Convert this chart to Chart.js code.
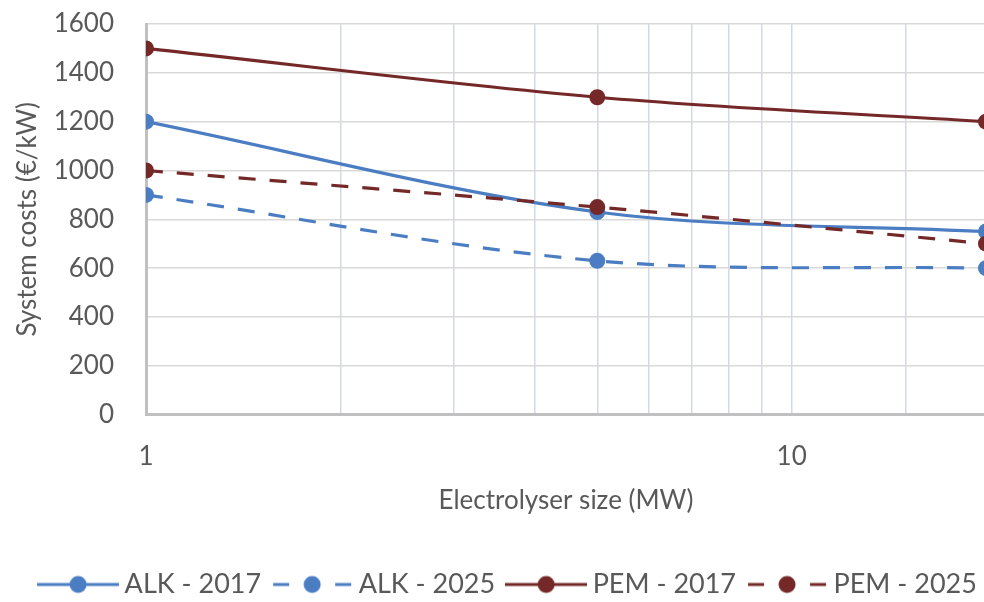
<!DOCTYPE html>
<html>
<head>
<meta charset="utf-8">
<script src="https://cdn.jsdelivr.net/npm/chart.js@4/dist/chart.umd.min.js"></script>
<style>
  html, body { margin: 0; padding: 0; background: #ffffff; overflow: hidden; width: 984px; height: 602px; }
  #wrap { position: absolute; left: 0; top: 0; width: 1000px; height: 608px; }
</style>
</head>
<body>
<div id="wrap"><canvas id="c" width="1000" height="608"></canvas></div>
<script>
const sizesMW = [1, 5, 20];
const alk2017 = [1200, 830, 750];
const alk2025 = [900, 630, 600];
const pem2017 = [1500, 1300, 1200];
const pem2025 = [1000, 850, 700];
const seriesNames = ['ALK - 2017', 'ALK - 2025', 'PEM - 2017', 'PEM - 2025'];
const xTickLabels = [1, 10];
const yTitle = 'System costs (€/kW)';
const xTitle = 'Electrolyser size (MW)';

const BLUE = '#4b7dc3';
const RED = '#752828';
const FONT = 'Lato';
const TXT = '#595959';

function makeSymbol(color, dashed) {
  const c = document.createElement('canvas');
  c.width = 82; c.height = 20;
  const g = c.getContext('2d');
  g.strokeStyle = color; g.fillStyle = color; g.lineWidth = 3;
  g.beginPath();
  if (dashed) {
    g.moveTo(2, 10); g.lineTo(18, 10);
    g.moveTo(64, 10); g.lineTo(80, 10);
  } else {
    g.moveTo(0, 10); g.lineTo(82, 10);
  }
  g.stroke();
  g.beginPath(); g.arc(41, 10, 8.5, 0, Math.PI * 2); g.fill();
  return c;
}

const toXY = arr => arr.map((v, i) => ({ x: sizesMW[i], y: v }));
function ds(label, values, color, dashed, order) {
  return {
    label, data: toXY(values), borderColor: color, backgroundColor: color,
    pointBackgroundColor: color, pointBorderColor: color, pointRadius: 8, pointBorderWidth: 0,
    borderWidth: 3.2, borderDash: dashed ? [17, 14] : [], tension: 0.33, fill: false, order,
    legendSymbol: makeSymbol(color, dashed)
  };
}

const legendShift = {
  id: 'legendShift',
  afterLayout(chart) {
    if (chart.legend) { chart.legend.left += 12; chart.legend.right += 12; }
  }
};

new Chart(document.getElementById('c'), {
  type: 'line',
  plugins: [legendShift],
  data: {
    datasets: [
      ds(seriesNames[0], alk2017, BLUE, false, 1),
      ds(seriesNames[1], alk2025, BLUE, true, 3),
      ds(seriesNames[2], pem2017, RED, false, 2),
      ds(seriesNames[3], pem2025, RED, true, 0)
    ]
  },
  options: {
    responsive: false, animation: false, devicePixelRatio: 1,
    layout: { padding: { left: 12, right: 14, top: 24, bottom: 0 } },
    plugins: {
      tooltip: { enabled: false },
      legend: {
        position: 'bottom',
        labels: {
          usePointStyle: true, pointStyleWidth: 66, padding: 18,
          color: TXT, font: { family: FONT, size: 27 },
          sort: (a, b) => a.datasetIndex - b.datasetIndex,
          generateLabels: (chart) => {
            const items = Chart.defaults.plugins.legend.labels.generateLabels(chart);
            items.forEach(it => { it.pointStyle = chart.data.datasets[it.datasetIndex].legendSymbol; });
            return items;
          }
        }
      }
    },
    scales: {
      x: {
        type: 'logarithmic', min: 1, max: 20,
        border: { display: true, color: '#c0c0c0', width: 3 },
        grid: { color: '#d3d9e2', lineWidth: 1.5, drawTicks: true, tickLength: 26, tickColor: 'rgba(0,0,0,0)' },
        ticks: {
          autoSkip: false, maxRotation: 0, padding: 0, color: TXT,
          font: { family: FONT, size: 26 },
          callback: (v) => xTickLabels.includes(v) ? String(v) : ''
        },
        title: { display: true, text: xTitle, color: TXT, font: { family: FONT, size: 26 }, padding: { top: 13, bottom: 37 } }
      },
      y: {
        min: 0, max: 1600,
        border: { display: true, color: '#c0c0c0', width: 3 },
        grid: { color: '#d9d9d9', lineWidth: 1.5, drawTicks: true, tickLength: 32, tickColor: 'rgba(0,0,0,0)' },
        ticks: { stepSize: 200, padding: 0, color: TXT, font: { family: FONT, size: 26 }, callback: (v) => String(v) },
        title: { display: true, text: yTitle, color: TXT, font: { family: FONT, size: 26 }, padding: { top: 0, bottom: 0 } },
        afterFit: (s) => { s.width = 134; }
      }
    }
  }
});
</script>
</body>
</html>
